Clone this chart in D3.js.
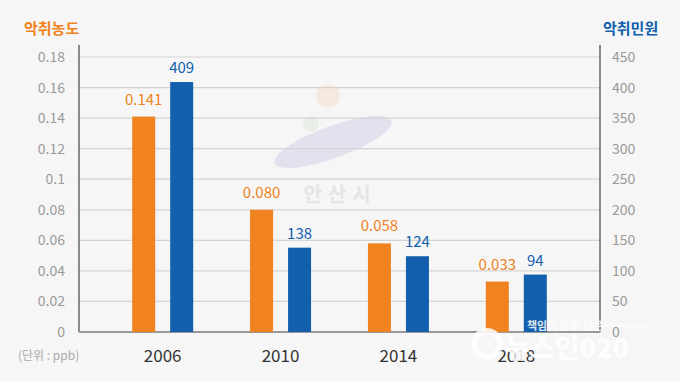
<!DOCTYPE html>
<html><head><meta charset="utf-8">
<script src="https://cdn.jsdelivr.net/npm/d3@7"></script>
<style>body{margin:0;background:#f6f6f6;}svg{display:block;font-family:"Noto Sans CJK KR","Noto Sans",sans-serif;}</style>
</head><body>
<svg id="c" width="680" height="381"></svg>
<script>
const years = ["2006","2010","2014","2018"];
const odor = [0.141, 0.080, 0.058, 0.033];
const complaints = [409, 138, 124, 94];
const odorLabels = ["0.141","0.080","0.058","0.033"];
const leftTicks = [0,0.02,0.04,0.06,0.08,0.1,0.12,0.14,0.16,0.18];
const rightTicks = [0,50,100,150,200,250,300,350,400,450];

const svg = d3.select("#c");
const L = 79, R = 600, T = 57, B = 332;
const x = d3.scalePoint().domain(years).range([L, R]).padding(0.71);
const yL = d3.scaleLinear().domain([0, 0.18]).range([B, T]);
const yR = d3.scaleLinear().domain([0, 450]).range([B, T]);
const orange = "#f08220", blue = "#125fae";

// watermark logo (faint)
const wm = svg.append("g").attr("opacity", 0.9);
wm.append("circle").attr("cx", 328).attr("cy", 96).attr("r", 12).attr("fill", "#f6e9dc");
wm.append("circle").attr("cx", 311).attr("cy", 124).attr("r", 8).attr("fill", "#e8eee6");
wm.append("ellipse").attr("cx", 333).attr("cy", 142).attr("rx", 62).attr("ry", 16)
  .attr("transform", "rotate(-20 333 142)").attr("fill", "#dfe0ee");
wm.append("text").attr("x", 340).attr("y", 202).attr("text-anchor", "middle")
  .attr("font-size", 20).attr("font-weight", 700).attr("fill", "#e4e4e4").attr("letter-spacing", 6).text("안산시");

// gridlines
svg.append("g").selectAll("line").data(leftTicks.filter(d => d > 0)).join("line")
  .attr("x1", L).attr("x2", R).attr("y1", d => yL(d)).attr("y2", d => yL(d))
  .attr("stroke", "#d4d4d4").attr("stroke-width", 1.2);

// axes
const axL = svg.append("g").attr("transform", `translate(${L},0)`)
  .call(d3.axisLeft(yL).tickValues(leftTicks).tickSize(0).tickPadding(14).tickFormat(d => d === 0 ? "0" : d3.format("")(+d.toFixed(2))));
const axR = svg.append("g").attr("transform", `translate(${R},0)`)
  .call(d3.axisRight(yR).tickValues(rightTicks).tickSize(0).tickPadding(12));
[axL, axR].forEach(a => {
  a.select(".domain").remove();
  a.selectAll("text").attr("fill", "#9a9a9a").attr("font-size", 14).attr("font-family", "Noto Sans CJK KR, Noto Sans, sans-serif");
});
svg.append("line").attr("x1", L).attr("x2", L).attr("y1", 45).attr("y2", B).attr("stroke", "#666").attr("stroke-width", 1.5);
svg.append("line").attr("x1", R).attr("x2", R).attr("y1", 45).attr("y2", B).attr("stroke", "#666").attr("stroke-width", 1.5);
svg.append("line").attr("x1", L).attr("x2", R).attr("y1", B).attr("y2", B).attr("stroke", "#999").attr("stroke-width", 2);

// bars
const bw = 23, off = 19;
svg.append("g").selectAll("rect").data(years).join("rect")
  .attr("x", (d) => x(d) - off - bw / 2).attr("width", bw)
  .attr("y", (d, i) => yL(odor[i])).attr("height", (d, i) => B - yL(odor[i]))
  .attr("fill", orange);
svg.append("g").selectAll("rect").data(years).join("rect")
  .attr("x", (d) => x(d) + off - bw / 2).attr("width", bw)
  .attr("y", (d, i) => yR(complaints[i])).attr("height", (d, i) => B - yR(complaints[i]))
  .attr("fill", blue);

// value labels
svg.append("g").selectAll("text").data(years).join("text")
  .attr("x", d => x(d) - off).attr("y", (d, i) => yL(odor[i]) - 12)
  .attr("text-anchor", "middle").attr("font-size", 15).attr("fill", orange)
  .text((d, i) => odorLabels[i]);
svg.append("g").selectAll("text").data(years).join("text")
  .attr("x", d => x(d) + off).attr("y", (d, i) => yR(complaints[i]) - 9)
  .attr("text-anchor", "middle").attr("font-size", 15).attr("fill", blue)
  .text((d, i) => complaints[i]);

// x labels
svg.append("g").selectAll("text").data(years).join("text")
  .attr("x", d => x(d)).attr("y", 362).attr("text-anchor", "middle")
  .attr("font-size", 17).attr("fill", "#333").text(d => d);

// titles
svg.append("text").attr("x", 24).attr("y", 34).attr("font-size", 15).attr("font-weight", 700).attr("fill", orange).text("악취농도");
svg.append("text").attr("x", 603).attr("y", 34).attr("font-size", 15).attr("font-weight", 700).attr("fill", blue).text("악취민원");
svg.append("text").attr("x", 18).attr("y", 360).attr("font-size", 12).attr("fill", "#aaa").text("(단위 : ppb)");

// newspaper watermark
const nw = svg.append("g").attr("opacity", 0.85);
nw.append("text").attr("x", 527).attr("y", 330).attr("font-size", 11).attr("font-weight", 700).attr("fill", "#fff").text("책임이 강한 신문");
nw.append("line").attr("x1", 600).attr("x2", 652).attr("y1", 326).attr("y2", 326).attr("stroke", "#fff").attr("stroke-width", 1.2);
nw.append("circle").attr("cx", 487).attr("cy", 344).attr("r", 13).attr("fill", "none").attr("stroke", "#fff").attr("stroke-width", 6);
nw.append("text").attr("x", 505).attr("y", 358).attr("font-size", 27).attr("font-weight", 900).attr("fill", "#fff").text("뉴스인020");
</script>
</body></html>
